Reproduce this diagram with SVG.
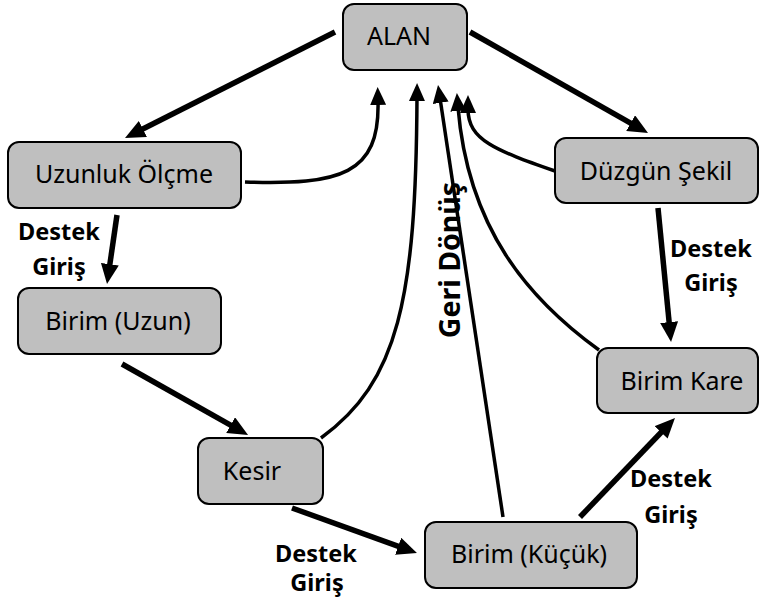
<svg xmlns="http://www.w3.org/2000/svg" width="762" height="607" viewBox="0 0 762 607">
<defs>
<style>
.box{fill:#bfbfbf;stroke:#000;stroke-width:2}
.lbl{font-family:"Noto Sans","Liberation Sans",sans-serif;font-size:25px;fill:#000;text-anchor:middle}
.bold{font-family:"Noto Sans","Liberation Sans",sans-serif;font-size:23.5px;font-weight:bold;fill:#000;text-anchor:middle}
.thick{fill:none;stroke:#000;stroke-width:5.5;marker-end:url(#ah)}
.thin{fill:none;stroke:#000;stroke-width:3.5;marker-end:url(#ah2)}
</style>
<marker id="ah" markerUnits="userSpaceOnUse" viewBox="0 0 20 18" refX="4" refY="9" markerWidth="20" markerHeight="18" orient="auto"><path d="M0,0 L20,9 L0,18 Z" fill="#000"/></marker>
<marker id="ah2" markerUnits="userSpaceOnUse" viewBox="0 0 18 16" refX="4" refY="8" markerWidth="18" markerHeight="16" orient="auto"><path d="M0,0 L18,8 L0,16 Z" fill="#000"/></marker>
</defs>
<rect width="762" height="607" fill="#fff"/>
<g id="connectors">
<path class="thick" d="M335,32 L139.3,130.8"/>
<path class="thick" d="M470,32 L634.1,125.1"/>
<path class="thick" d="M117,215 L109.3,268.2"/>
<path class="thick" d="M122,364 L234.1,427.1"/>
<path class="thick" d="M292,508 L401.9,547.6"/>
<path class="thick" d="M580,517 L663.9,429.5"/>
<path class="thick" d="M658,208 L669.5,326.1"/>
<path class="thin" d="M245,182 C340,185 380,175 378,101"/>
<path class="thin" d="M321,438 C398,382 416,300 417,97"/>
<path class="thin" d="M503,517 L440.1,98.8"/>
<path class="thin" d="M599,350 C530,300 468,230 458,107"/>
<path class="thin" d="M555,171 C495,150 468,140 468,109"/>
<text class="bold" x="59" y="240">Destek</text>
<text class="bold" x="59" y="275">Giriş</text>
<text class="bold" x="711" y="257">Destek</text>
<text class="bold" x="711" y="291">Giriş</text>
<text class="bold" x="671" y="487">Destek</text>
<text class="bold" x="671" y="523">Giriş</text>
<text class="bold" x="316" y="562">Destek</text>
<text class="bold" x="317" y="591">Giriş</text>
<text class="bold" style="font-size:28.5px" transform="translate(460,260) rotate(-90)">Geri Dönüş</text>
</g>
<g id="alan"><rect class="box" x="343" y="4" width="124" height="66" rx="11"/><text class="lbl" x="399" y="45">ALAN</text></g>
<g id="uzunluk"><rect class="box" x="8" y="142" width="233" height="66" rx="11"/><text class="lbl" x="124" y="183">Uzunluk Ölçme</text></g>
<g id="birim-uzun"><rect class="box" x="18" y="288" width="203" height="66" rx="11"/><text class="lbl" x="118" y="330">Birim (Uzun)</text></g>
<g id="kesir"><rect class="box" x="198" y="438" width="125" height="66" rx="11"/><text class="lbl" x="252" y="480">Kesir</text></g>
<g id="birim-kucuk"><rect class="box" x="425" y="522" width="212" height="66" rx="11"/><text class="lbl" x="529" y="563">Birim (Küçük)</text></g>
<g id="duzgun"><rect class="box" x="555" y="138" width="203" height="65" rx="11"/><text class="lbl" x="656" y="180">Düzgün Şekil</text></g>
<g id="birim-kare"><rect class="box" x="597" y="348" width="161" height="65" rx="11"/><text class="lbl" x="682" y="390">Birim Kare</text></g>
</svg>
